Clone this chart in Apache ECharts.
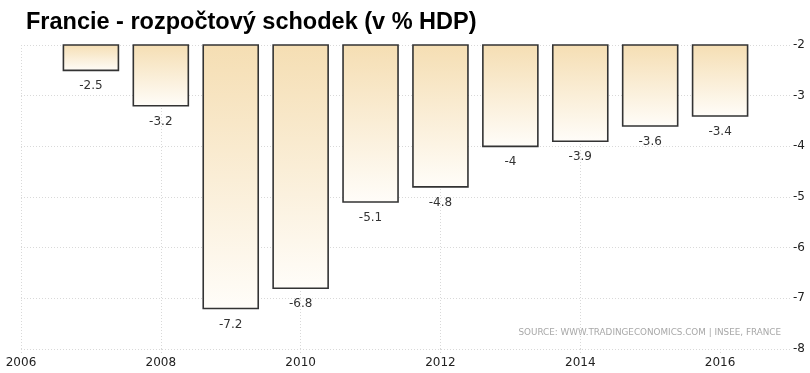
<!DOCTYPE html>
<html>
<head>
<meta charset="utf-8">
<script src="https://cdn.jsdelivr.net/npm/echarts@6/dist/echarts.min.js"></script>
<style>
html,body{margin:0;padding:0;background:#fff;}
#chart{width:810px;height:373px;}
</style>
</head>
<body>
<div id="chart"></div>
<script>
const titleText = 'Francie - rozpočtový schodek (v % HDP)';
const sourceText = 'SOURCE: WWW.TRADINGECONOMICS.COM | INSEE, FRANCE';
const years = [2007, 2008, 2009, 2010, 2011, 2012, 2013, 2014, 2015, 2016];
const deficit = [-2.5, -3.2, -7.2, -6.8, -5.1, -4.8, -4, -3.9, -3.6, -3.4];
const xTickValues = [2006, 2008, 2010, 2012, 2014, 2016];
const yTop = -2;
const yBottom = -8;

const chart = echarts.init(document.getElementById('chart'), null, {renderer: 'canvas'});
const gridLine = {show: true, lineStyle: {color: '#d9d9d9', type: [1, 2], width: 1}};

chart.setOption({
  animation: false,
  backgroundColor: '#fff',
  title: {
    text: titleText,
    left: 21, top: 6,
    textStyle: {fontFamily: 'Liberation Sans, Arial, sans-serif', fontWeight: 'bold', fontSize: 23.5, color: '#000'}
  },
  grid: {left: 21, right: 20, top: 45, bottom: 24, containLabel: false},
  xAxis: {
    type: 'value', min: 2006, max: 2017, interval: 2,
    axisLine: {show: false},
    axisTick: {show: true, length: 4, customValues: xTickValues, lineStyle: {color: '#d9d9d9', type: [1, 2]}},
    axisLabel: {customValues: xTickValues, margin: 8, color: '#222', fontFamily: 'DejaVu Sans, sans-serif', fontSize: 12, formatter: v => String(v)},
    splitLine: Object.assign({showMaxLine: false}, gridLine)
  },
  yAxis: {
    type: 'value', position: 'right', min: yBottom, max: yTop, interval: 1,
    axisLine: {show: false}, axisTick: {show: false},
    axisLabel: {margin: 3, color: '#222', fontFamily: 'DejaVu Sans, sans-serif', fontSize: 12},
    splitLine: gridLine
  },
  graphic: [{
    type: 'text', right: 29, top: 328,
    style: {text: sourceText, fill: '#a8a8a8', font: '8.8px "DejaVu Sans", sans-serif'}
  }],
  series: [{
    type: 'custom',
    data: years.map((y, i) => [y, deficit[i]]),
    clip: false,
    renderItem: function (params, api) {
      const x = api.value(0), v = api.value(1);
      const pTop = api.coord([x, yTop]);
      const pBot = api.coord([x, v]);
      const w = 55;
      return {
        type: 'group',
        children: [{
          type: 'rect',
          shape: {x: pTop[0] - w / 2, y: pTop[1], width: w, height: pBot[1] - pTop[1]},
          style: {
            fill: new echarts.graphic.LinearGradient(0, 0, 0, 1, [
              {offset: 0, color: '#f5deb3'},
              {offset: 1, color: '#fffdf9'}
            ]),
            stroke: '#333', lineWidth: 1.6
          }
        }, {
          type: 'text',
          x: pTop[0], y: pBot[1] + 16,
          style: {text: String(v), align: 'center', verticalAlign: 'middle', fill: '#333', font: '12px "DejaVu Sans", sans-serif'}
        }]
      };
    }
  }]
});
</script>
</body>
</html>
